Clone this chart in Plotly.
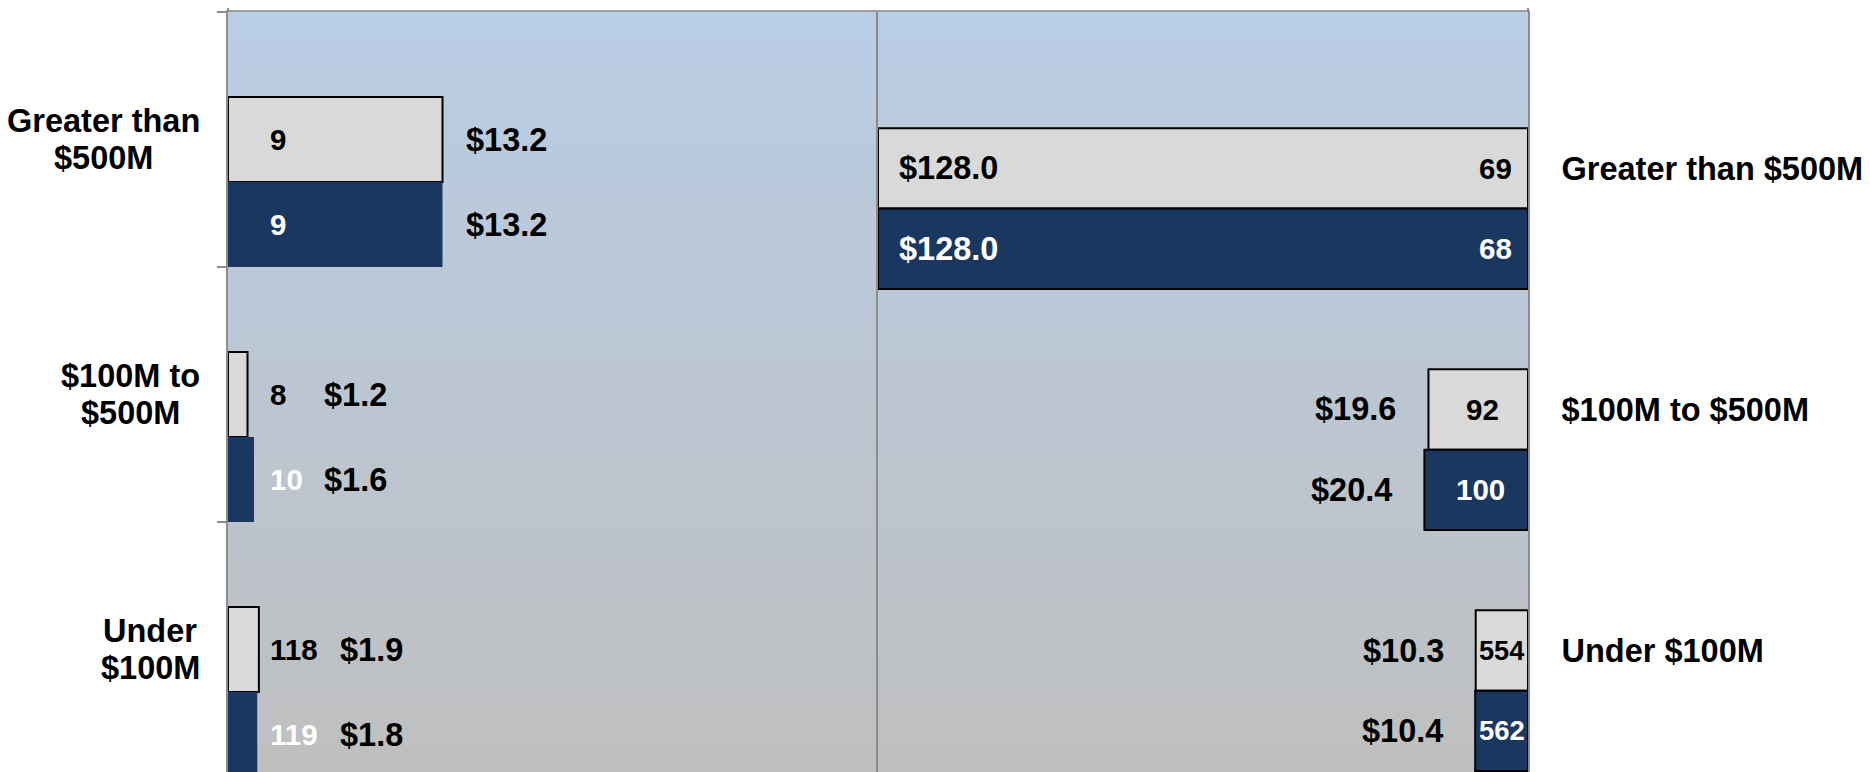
import plotly.graph_objects as go

# ---------------- data ----------------
categories = ["Greater than $500M", "$100M to $500M", "Under $100M"]
left_cat_labels = ["Greater than<br>$500M", "$100M to<br>$500M", "Under<br>$100M"]

left_light_amount = [13.2, 1.2, 1.9]
left_light_count = [9, 8, 118]
left_dark_amount = [13.2, 1.6, 1.8]
left_dark_count = [9, 10, 119]

right_light_amount = [128.0, 19.6, 10.3]
right_light_count = [69, 92, 554]
right_dark_amount = [128.0, 20.4, 10.4]
right_dark_count = [68, 100, 562]

# ---------------- style ----------------
LIGHT = "#D9D9D9"
DARK = "#1A375F"
AXIS_GRAY = "#8C8C8C"
FONT = "Liberation Sans, Arial, Helvetica, sans-serif"
BIG = 32.5
SMALL = 29.5

# page body has an 8px margin -> figure is 8px smaller and shifted
W, H = 1862, 764
ML, MR, MT, MB = 220, 342, 4, 0
PLOT_W = W - ML - MR
PLOT_H = H - MT - MB
PANEL_W = PLOT_W / 2

LEFT_MAX = 40
RIGHT_MAX = 128
LEFT_YR = [2.48, -0.5]
RIGHT_YR = [2.504, -0.649]
left_cat_px = PLOT_H / (LEFT_YR[0] - LEFT_YR[1])
right_cat_px = PLOT_H / (RIGHT_YR[0] - RIGHT_YR[1])
left_ppu = PANEL_W / LEFT_MAX
right_ppu = PANEL_W / RIGHT_MAX

# approximate Arial Bold advance widths (em)
CW = {"G": .778, "r": .389, "e": .556, "a": .556, "t": .333, "h": .611,
      "n": .611, " ": .278, "$": .556, "M": .833, "o": .611, "U": .722,
      "d": .611, ".": .278}


def text_w(s, size):
    return sum(CW.get(ch, 0.556) for ch in s) * size


def money(v):
    return f"${v:.1f}"


def bar(x, color, lw, xa, ya, offset):
    return go.Bar(
        y=categories, x=x, orientation="h",
        marker=dict(color=color, line=dict(color="black", width=lw)),
        width=1 / 3, offset=offset, xaxis=xa, yaxis=ya,
        hoverinfo="skip", showlegend=False,
    )


fig = go.Figure()
fig.add_trace(bar(left_light_amount, LIGHT, 2, "x", "y", -1 / 6))
fig.add_trace(bar(left_dark_amount, DARK, 0, "x", "y", 1 / 6))
fig.add_trace(bar(right_light_amount, LIGHT, 2, "x2", "y2", -1 / 6))
fig.add_trace(bar(right_dark_amount, DARK, 2, "x2", "y2", 1 / 6))

ann = []


def a(**kw):
    base = dict(showarrow=False, yanchor="middle")
    base.update(kw)
    ann.append(base)


# left category labels (centred lines, block right edge 28px from axis)
LINE_GAP = 36.6
for cat, lab in zip(categories, left_cat_labels):
    lines = lab.split("<br>")
    n = len(lines)
    widest = max(text_w(ln, BIG) for ln in lines)
    for k, ln in enumerate(lines):
        a(x=0, xref="x domain", y=cat, yref="y", text=ln, xanchor="center",
          xshift=-28 - widest / 2, yshift=((n - 1) / 2 - k) * LINE_GAP,
          font=dict(family=FONT, size=BIG, color="black", weight="bold"))

# left panel labels
for i, cat in enumerate(categories):
    pairs = [(left_light_amount[i], left_light_count[i], 0, "black"),
             (left_dark_amount[i], left_dark_count[i], -left_cat_px / 3, "white")]
    cnt_end = max(40 + text_w(str(c), SMALL) for _, c, _, _ in pairs)
    bar_end = max(v * left_ppu for v, _, _, _ in pairs)
    money_x = max(cnt_end, bar_end) + 21
    for v, c, ysh, ccol in pairs:
        a(x=0, xref="x", y=cat, yref="y", yshift=ysh, text=str(c),
          xanchor="left", xshift=40,
          font=dict(family=FONT, size=SMALL, color=ccol, weight="bold"))
        a(x=0, xref="x", y=cat, yref="y", yshift=ysh, text=money(v),
          xanchor="left", xshift=money_x,
          font=dict(family=FONT, size=BIG, color="black", weight="bold"))

# right panel labels
for i, cat in enumerate(categories):
    pairs = [(right_light_amount[i], right_light_count[i], 0, "black"),
             (right_dark_amount[i], right_dark_count[i], -right_cat_px / 3, "white")]
    for v, c, ysh, ccol in pairs:
        bpx = v * right_ppu
        cs = str(c)
        if bpx > 150:
            a(x=0, xref="x2", y=cat, yref="y2", yshift=ysh, text=cs,
              xanchor="right", xshift=-14,
              font=dict(family=FONT, size=SMALL, color=ccol, weight="bold"))
        else:
            tw = text_w(cs, SMALL)
            room = bpx - tw
            fs = min(SMALL, SMALL * (bpx - 7) / tw)
            a(x=v / 2, xref="x2", y=cat, yref="y2", yshift=ysh, text=cs,
              xanchor="center", xshift=4 if room > 20 else 0,
              font=dict(family=FONT, size=fs, color=ccol, weight="bold"))
        s = money(v)
        if bpx + 30 + text_w(s, BIG) > PANEL_W:
            a(x=v, xref="x2", y=cat, yref="y2", yshift=ysh, text=s,
              xanchor="left", xshift=19,
              font=dict(family=FONT, size=BIG, color=ccol, weight="bold"))
        else:
            a(x=v, xref="x2", y=cat, yref="y2", yshift=ysh, text=s,
              xanchor="right", xshift=-30,
              font=dict(family=FONT, size=BIG, color="black", weight="bold"))

# gradient background strips
shapes = []
N = 80
top = (185, 205, 229)
bot = (191, 191, 191)
for k in range(N):
    t = (k + 0.5) / N  # 0 bottom -> 1 top
    col = tuple(round(bot[j] + (top[j] - bot[j]) * t) for j in range(3))
    shapes.append(dict(type="rect", xref="paper", yref="paper",
                       x0=0, x1=1, y0=k / N, y1=(k + 1) / N + 0.002,
                       fillcolor="rgb(%d,%d,%d)" % col, line=dict(width=0),
                       layer="below"))
for xp in (0, 1):
    shapes.append(dict(type="line", xref="paper", yref="paper",
                       x0=xp, x1=xp, y0=1, y1=1 + 8 / PLOT_H,
                       line=dict(color=AXIS_GRAY, width=2)))

xcommon = dict(side="top", showline=True, linecolor="#9A9FA6", linewidth=2,
               showticklabels=False, ticks="", showgrid=False, zeroline=False,
               fixedrange=True)

fig.update_layout(
    width=W, height=H, autosize=False,
    margin=dict(l=ML, r=MR, t=MT, b=MB, pad=0),
    paper_bgcolor="white", plot_bgcolor="rgba(0,0,0,0)",
    barmode="overlay", showlegend=False,
    font=dict(family=FONT, color="black"),
    xaxis=dict(domain=[0, 0.5], range=[0, LEFT_MAX], anchor="y", **xcommon),
    xaxis2=dict(domain=[0.5, 1], range=[RIGHT_MAX, 0], anchor="y2", **xcommon),
    yaxis=dict(type="category", categoryorder="array", categoryarray=categories,
               range=LEFT_YR, anchor="x", showline=True, linecolor=AXIS_GRAY,
               linewidth=2, ticks="outside", tickson="boundaries", ticklen=9,
               tickwidth=2, tickcolor=AXIS_GRAY, showticklabels=False,
               showgrid=False, zeroline=False),
    yaxis2=dict(type="category", categoryorder="array", categoryarray=categories,
                range=RIGHT_YR, anchor="x2", side="right", showline=True,
                mirror=True, linecolor=AXIS_GRAY, linewidth=2, ticks="",
                showgrid=False, zeroline=False, ticklabelstandoff=25,
                tickfont=dict(family=FONT, size=BIG, color="black", weight="bold")),
    annotations=ann,
    shapes=shapes,
)

fig.write_html("out.html")
